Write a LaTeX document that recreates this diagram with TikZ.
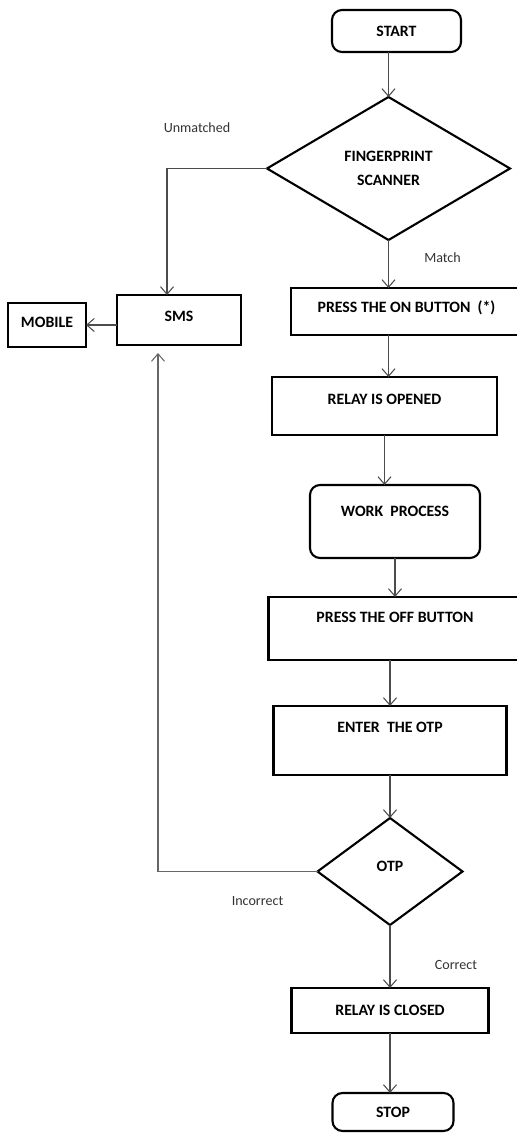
\documentclass[tikz,border=0pt]{standalone}
\usepackage{fontspec}
\setmainfont{Carlito}
\usetikzlibrary{arrows.meta,positioning,shapes.geometric}

\begin{document}
\begin{tikzpicture}[
  font=\bfseries\fontsize{9}{10}\selectfont,
  box/.style={draw,line width=1.2pt,inner sep=1pt,outer sep=0pt,align=center},
  rbox/.style={box,rounded corners=2mm},
  dbox/.style={box,diamond,inner sep=0pt},
  lift/.style={text height=2mm,text depth=#1},
  lbl/.style={font=\mdseries\fontsize{8}{9}\selectfont,text=black!80},
  >/.tip={Straight Barb[length=1.5mm,width=2.6mm]},
  every edge/.style={draw,->,draw=black!70,line width=0.6pt}
]
\useasboundingbox (0,0) rectangle (103.2mm,-226.6mm);
% main column
\node[rbox,minimum width=25.8mm,minimum height=8.4mm] (start) at (79.3mm,-6.2mm) {START};
\node[dbox,minimum width=48.6mm,minimum height=28.6mm,below=9mm of start,xshift=-1.6mm] (fp) {FINGERPRINT\\[1.2mm]SCANNER};
\node[box,minimum width=46.2mm,minimum height=9.4mm,lift=1.8mm,below=9.6mm of fp,xshift=3.6mm] (on) {PRESS THE ON BUTTON \ (*)};
\node[box,minimum width=45mm,minimum height=11.6mm,lift=2.8mm,below=8.4mm of on,xshift=-4.4mm] (opened) {RELAY IS OPENED};
\node[rbox,minimum width=34mm,minimum height=14.6mm,lift=4.2mm,below=10mm of opened,xshift=2.1mm] (work) {WORK \ PROCESS};
\node[box,minimum width=50.6mm,minimum height=12.6mm,lift=4.6mm,below=7.8mm of work] (off) {PRESS THE OFF BUTTON};
\node[box,minimum width=46.6mm,minimum height=13.8mm,lift=5.4mm,below=9.2mm of off,xshift=-1mm] (otpin) {ENTER \ THE OTP};
\node[dbox,minimum width=29mm,minimum height=21.4mm,lift=2.2mm,below=8.6mm of otpin] (otp) {OTP};
\node[box,minimum width=39.4mm,minimum height=9mm,below=12.6mm of otp] (closed) {RELAY IS CLOSED};
\node[rbox,minimum width=24.2mm,minimum height=7.6mm,below=12mm of closed,xshift=0.6mm] (stop) {STOP};
% side boxes
\node[box,minimum width=24.8mm,minimum height=10mm,lift=1.6mm,left=10mm of on,yshift=-1.7mm] (sms) {SMS};
\node[box,minimum width=15.6mm,minimum height=8.8mm,lift=1.2mm,left=6.2mm of sms,yshift=-1mm] (mobile) {MOBILE};
\coordinate (back) at ([xshift=-4.2mm,yshift=-1.6mm]sms.south);
% connectors
\draw (fp.north |- start.south) edge (fp.north);
\draw (fp.south) edge (fp.south |- on.north);
\draw (fp.south |- on.south) edge (fp.south |- opened.north);
\draw (opened.south) edge (opened.south |- work.north);
\draw (work.south) edge (work.south |- off.north);
\draw (otpin.north |- off.south) edge (otpin.north);
\draw (otpin.south) edge (otp.north);
\draw (otp.south) edge (closed.north);
\draw (closed.south) edge (closed.south |- stop.north);
\draw (sms.west |- mobile) edge (mobile.east);
\draw[->,draw=black!70,line width=0.6pt] (fp.west) -| ([xshift=-2.4mm]sms.north);
\draw[->,draw=black!60,line width=0.6pt] (otp.west) -| (back);
% branch labels
\node[lbl] at ([xshift=-14mm,yshift=8.2mm]fp.west) {Unmatched};
\node[lbl] at ([xshift=10.8mm,yshift=-3.6mm]fp.south) {Match};
\node[lbl] at ([xshift=-12mm,yshift=-6mm]otp.west) {Incorrect};
\node[lbl] at ([xshift=13.2mm,yshift=-8mm]otp.south) {Correct};
\end{tikzpicture}
\end{document}
